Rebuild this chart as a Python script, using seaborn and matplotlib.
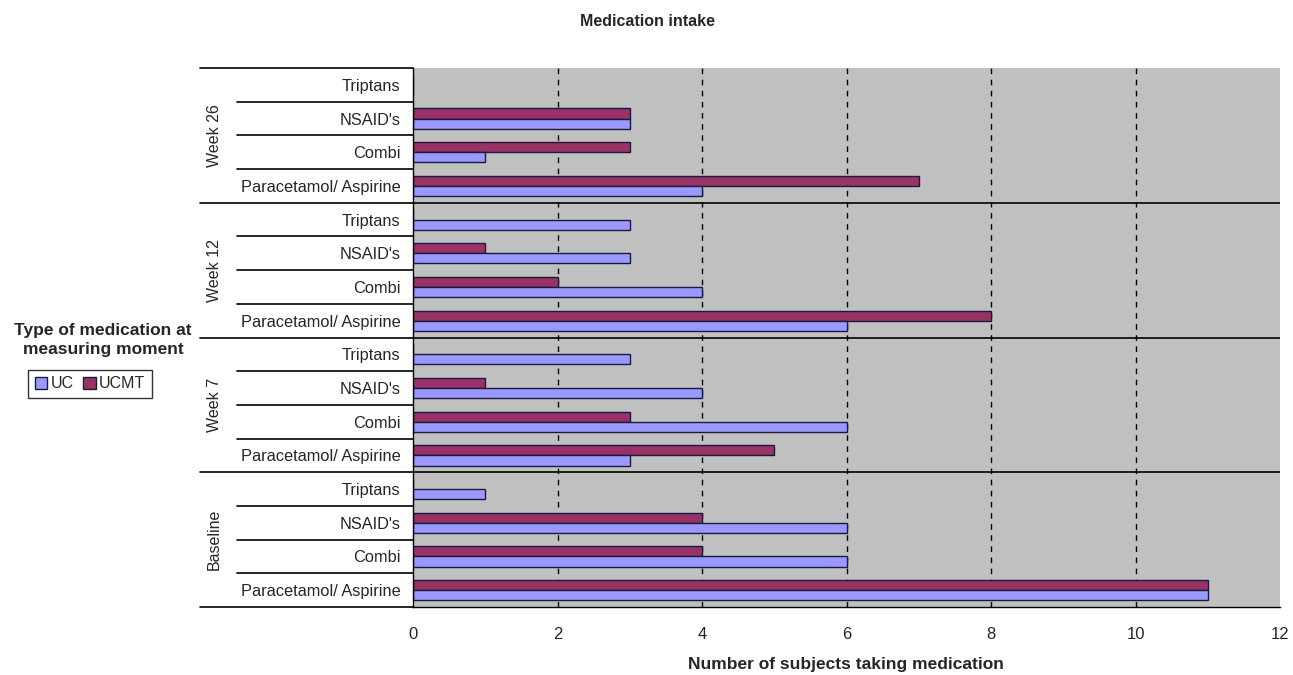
import matplotlib
matplotlib.use("Agg")
import matplotlib.pyplot as plt
import seaborn as sns
import pandas as pd
from matplotlib.patches import Patch
import matplotlib.transforms as mtransforms

# ---- data ----
periods = ["Week 26", "Week 12", "Week 7", "Baseline"]
medications = ["Triptans", "NSAID's", "Combi", "Paracetamol/ Aspirine"]
series = ["UC", "UCMT"]
uc_values = [
    [0, 3, 1, 4],    # Week 26
    [3, 3, 4, 6],    # Week 12
    [3, 4, 6, 3],    # Week 7
    [1, 6, 6, 11],   # Baseline
]
ucmt_values = [
    [0, 3, 3, 7],
    [0, 1, 2, 8],
    [0, 1, 3, 5],
    [0, 4, 4, 11],
]
x_ticks = [0, 2, 4, 6, 8, 10, 12]

rows = []
for pi, p in enumerate(periods):
    for mi, m in enumerate(medications):
        key = f"{p}|{m}"
        rows.append({"key": key, "series": "UCMT", "value": ucmt_values[pi][mi]})
        rows.append({"key": key, "series": "UC", "value": uc_values[pi][mi]})
df = pd.DataFrame(rows)
order = [f"{p}|{m}" for p in periods for m in medications]

colors = {"UC": "#9999FF", "UCMT": "#993366"}

sns.set_style("white")
plt.rcParams["font.family"] = ["Liberation Sans", "DejaVu Sans"]

fig = plt.figure(figsize=(12.93, 6.75), dpi=100)
right_px = 1280
ax = fig.add_axes([413 / 1293, 1 - 607 / 675, (right_px - 413) / 1293, (607 - 68) / 675])
ax.set_facecolor("#C0C0C0")

sns.barplot(data=df, x="value", y="key", hue="series", order=order,
            hue_order=["UCMT", "UC"], palette=colors, orient="h",
            width=0.6, edgecolor="#1a1a40", linewidth=1.0, ax=ax,
            legend=False, errorbar=None, saturation=1)

ax.set_xlim(0, 12)
ax.set_ylim(len(order) - 0.5, -0.5)
ax.set_xticks(x_ticks)
ax.set_xticklabels([str(t) for t in x_ticks], fontsize=12)
ax.set_yticks(range(len(order)))
ax.set_yticklabels([k.split("|")[1] for k in order], fontsize=11.8)
ax.tick_params(axis="y", length=5, width=1, color="black", direction="out", pad=4)
ax.tick_params(axis="x", length=5, width=1, color="black", direction="inout", pad=12)
ax.set_xlabel("")
ax.set_ylabel("")

for x in x_ticks[1:-1]:
    ax.axvline(x, color="black", linestyle=(0, (4, 4)), linewidth=1, zorder=0.5)

for s in ["top", "right"]:
    ax.spines[s].set_visible(False)
ax.spines["left"].set_color("black")
ax.spines["bottom"].set_color("black")
ax.spines["left"].set_linewidth(1)
ax.spines["bottom"].set_linewidth(1)

# group separators across plot
n_med = len(medications)
for gi in range(1, len(periods)):
    ax.axhline(gi * n_med - 0.5, color="black", linewidth=1.2, zorder=3)

# hierarchical label lines in the left area
trans = mtransforms.blended_transform_factory(fig.transFigure, ax.transData)
x_grp = 200 / 1293
x_in = 237 / 1293
x_ax = 413 / 1293
for gi in range(len(periods) + 1):
    y = gi * n_med - 0.5
    ax.plot([x_grp, x_ax], [y, y], color="black", linewidth=1.2, transform=trans, clip_on=False)
for gi, p in enumerate(periods):
    for mi in range(1, n_med):
        y = gi * n_med + mi - 0.5
        ax.plot([x_in, x_ax], [y, y], color="black", linewidth=1.2, transform=trans, clip_on=False)
    yc = gi * n_med + (n_med - 1) / 2
    ax.text(214 / 1293, yc, p, rotation=90, ha="center", va="center",
            fontsize=11.5, transform=trans)

# title and labels
fig.text(647 / 1293, 1 - 22 / 675, "Medication intake", ha="center", va="center",
         fontsize=11.5, fontweight="bold")
fig.text(846 / 1293, 1 - 665 / 675, "Number of subjects taking medication", ha="center",
         va="center", fontsize=12.5, fontweight="bold")
fig.text(103 / 1293, 1 - 340 / 675, "Type of medication at\nmeasuring moment", ha="center",
         va="center", fontsize=12.5, fontweight="bold", linespacing=1.4)

handles = [Patch(facecolor=colors[s], edgecolor="#1a1a40", label=s) for s in series]
leg = fig.legend(handles=handles, loc="center", bbox_to_anchor=(90 / 1293, 1 - 384 / 675),
                 ncol=2, frameon=True, fontsize=11.5, handlelength=0.8, handleheight=0.8,
                 handletextpad=0.2, columnspacing=0.6, borderpad=0.4, fancybox=False)
leg.get_frame().set_edgecolor("black")
leg.get_frame().set_linewidth(1)

fig.savefig("out.png", dpi=100)
